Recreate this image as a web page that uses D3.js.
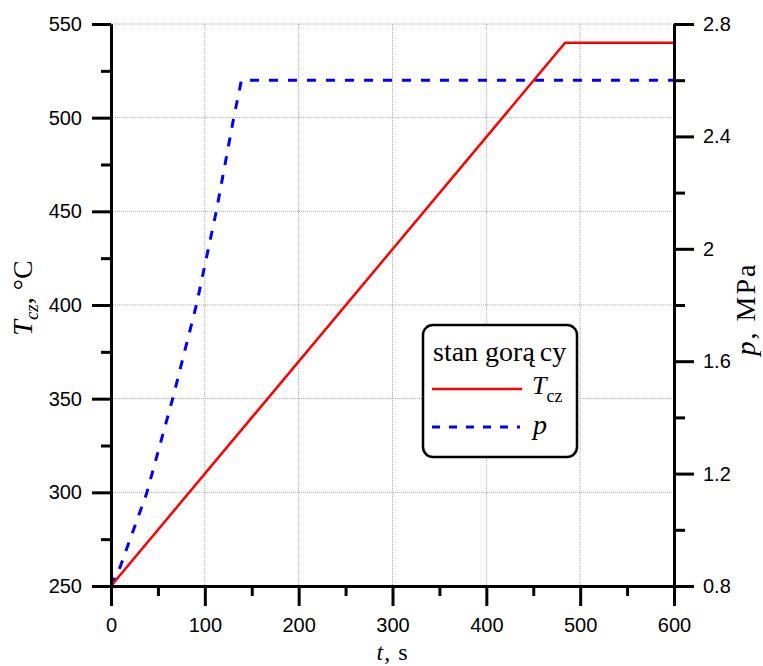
<!DOCTYPE html>
<html>
<head>
<meta charset="utf-8">
<script src="https://cdn.jsdelivr.net/npm/d3@7"></script>
<style>
  body { margin: 0; background: #fff; }
  .tick text { font-family: "Liberation Sans", Arial, sans-serif; font-size: 20px; fill: #000; }
  .serif { font-family: "Liberation Serif", "Times New Roman", serif; fill: #000; }
</style>
</head>
<body>
<svg id="chart" width="763" height="666"></svg>
<script>
// temperatura czynnika (stan gorący)
const tTime = [0, 484, 600];
const tTemp = [250, 540, 540];

// ciśnienie
const pTime = [0, 10, 38, 66, 91, 112, 131, 139, 600];
const pVal = [0.8, 0.87, 1.13, 1.47, 1.8, 2.13, 2.47, 2.6, 2.6];

const xTicks = [0, 100, 200, 300, 400, 500, 600];
const xMinor = [50, 150, 250, 350, 450, 550];
const yTicks = [250, 300, 350, 400, 450, 500, 550];
const yMinor = [275, 325, 375, 425, 475, 525];
const pTicks = [0.8, 1.2, 1.6, 2, 2.4, 2.8];
const pMinor = [1.0, 1.4, 1.8, 2.2, 2.6];

const svg = d3.select('#chart');
const pLeft = 111, pRight = 674, pTop = 24, pBottom = 586;

const x = d3.scaleLinear().domain([0, 600]).range([pLeft, pRight]);
const y = d3.scaleLinear().domain([250, 550]).range([pBottom, pTop]);
const yp = d3.scaleLinear().domain([0.8, 2.8]).range([pBottom, pTop]);

// siatka
const grid = svg.append('g')
  .attr('stroke', '#aaa')
  .attr('stroke-width', 1)
  .attr('stroke-dasharray', '1,1');
grid.selectAll('line.gx')
  .data(xTicks.slice(1, -1))
  .enter().append('line')
  .attr('x1', d => x(d)).attr('x2', d => x(d))
  .attr('y1', pTop).attr('y2', pBottom);
grid.selectAll('line.gy')
  .data(yTicks.slice(1))
  .enter().append('line')
  .attr('x1', pLeft).attr('x2', pRight)
  .attr('y1', d => y(d)).attr('y2', d => y(d));

// serie
const lineT = d3.line().x((d, i) => x(tTime[i])).y(d => y(d));
const lineP = d3.line().x((d, i) => x(pTime[i])).y(d => yp(d));

svg.append('path')
  .attr('d', lineP(pVal))
  .attr('fill', 'none')
  .attr('stroke', '#0000ff')
  .attr('stroke-width', 3)
  .attr('stroke-dasharray', '9,10');

svg.append('path')
  .attr('d', lineT(tTemp))
  .attr('fill', 'none')
  .attr('stroke', '#ff0000')
  .attr('stroke-width', 2.5);

// osie
function styleAxis(g) {
  g.select('.domain').attr('stroke', '#000').attr('stroke-width', 3);
  g.selectAll('.tick line').attr('stroke', '#000').attr('stroke-width', 3);
}

svg.append('g')
  .attr('transform', `translate(0,${pBottom})`)
  .call(d3.axisBottom(x).tickValues(xMinor).tickSize(10).tickSizeOuter(0).tickFormat(''))
  .call(styleAxis);
svg.append('g')
  .attr('transform', `translate(0,${pBottom})`)
  .call(d3.axisBottom(x).tickValues(xTicks).tickSize(20).tickSizeOuter(0).tickPadding(12))
  .call(styleAxis);

svg.append('g')
  .attr('transform', `translate(${pLeft},0)`)
  .call(d3.axisLeft(y).tickValues(yMinor).tickSize(10).tickSizeOuter(0).tickFormat(''))
  .call(styleAxis);
svg.append('g')
  .attr('transform', `translate(${pLeft},0)`)
  .call(d3.axisLeft(y).tickValues(yTicks).tickSize(19).tickSizeOuter(0).tickPadding(10))
  .call(styleAxis);

svg.append('g')
  .attr('transform', `translate(${pRight},0)`)
  .call(d3.axisRight(yp).tickValues(pMinor).tickSize(11).tickSizeOuter(0).tickFormat(''))
  .call(styleAxis);
svg.append('g')
  .attr('transform', `translate(${pRight},0)`)
  .call(d3.axisRight(yp).tickValues(pTicks).tickSize(20).tickSizeOuter(0).tickPadding(9)
    .tickFormat(d => d === 2 ? '2' : d3.format('.1f')(d)))
  .call(styleAxis);

// tytuły osi
const xt = svg.append('text').attr('class', 'serif')
  .attr('x', (pLeft + pRight) / 2).attr('y', 659.5)
  .attr('text-anchor', 'middle').attr('font-size', 24)
  .attr('letter-spacing', 1);
xt.append('tspan').attr('font-style', 'italic').text('t');
xt.append('tspan').text(', s');

const ylt = svg.append('text').attr('class', 'serif')
  .attr('transform', 'translate(32,298) rotate(-90)')
  .attr('text-anchor', 'middle').attr('font-size', 28);
ylt.append('tspan').attr('font-style', 'italic').text('T');
ylt.append('tspan').attr('font-style', 'italic').attr('font-size', 19).attr('dy', 6).text('cz');
ylt.append('tspan').attr('dy', -6).text(', °C');

const yrt = svg.append('text').attr('class', 'serif')
  .attr('transform', 'translate(755,309) rotate(-90)')
  .attr('text-anchor', 'middle').attr('font-size', 28)
  .attr('letter-spacing', 2);
yrt.append('tspan').attr('font-style', 'italic').text('p');
yrt.append('tspan').text(', MPa');

// legenda
const leg = svg.append('g');
leg.append('rect')
  .attr('x', 423).attr('y', 325).attr('width', 154).attr('height', 132)
  .attr('rx', 10).attr('ry', 10)
  .attr('fill', '#fff').attr('stroke', '#000').attr('stroke-width', 2.5);
const lt = leg.append('text').attr('class', 'serif')
  .attr('x', 433).attr('y', 361).attr('font-size', 28);
lt.append('tspan').text('stan gorą');
lt.append('tspan').attr('dx', 5).text('cy');

leg.append('line')
  .attr('x1', 432).attr('x2', 522).attr('y1', 389).attr('y2', 389)
  .attr('stroke', '#ff0000').attr('stroke-width', 2.5);
const l1 = leg.append('text').attr('class', 'serif')
  .attr('x', 532).attr('y', 394).attr('font-size', 26);
l1.append('tspan').attr('font-style', 'italic').text('T');
l1.append('tspan').attr('font-size', 18).attr('dy', 8).text('cz');

leg.append('line')
  .attr('x1', 432).attr('x2', 520).attr('y1', 427).attr('y2', 427)
  .attr('stroke', '#0000ff').attr('stroke-width', 3)
  .attr('stroke-dasharray', '8,9');
leg.append('text').attr('class', 'serif')
  .attr('x', 533).attr('y', 434).attr('font-size', 28)
  .attr('font-style', 'italic').text('p');
</script>
</body>
</html>
